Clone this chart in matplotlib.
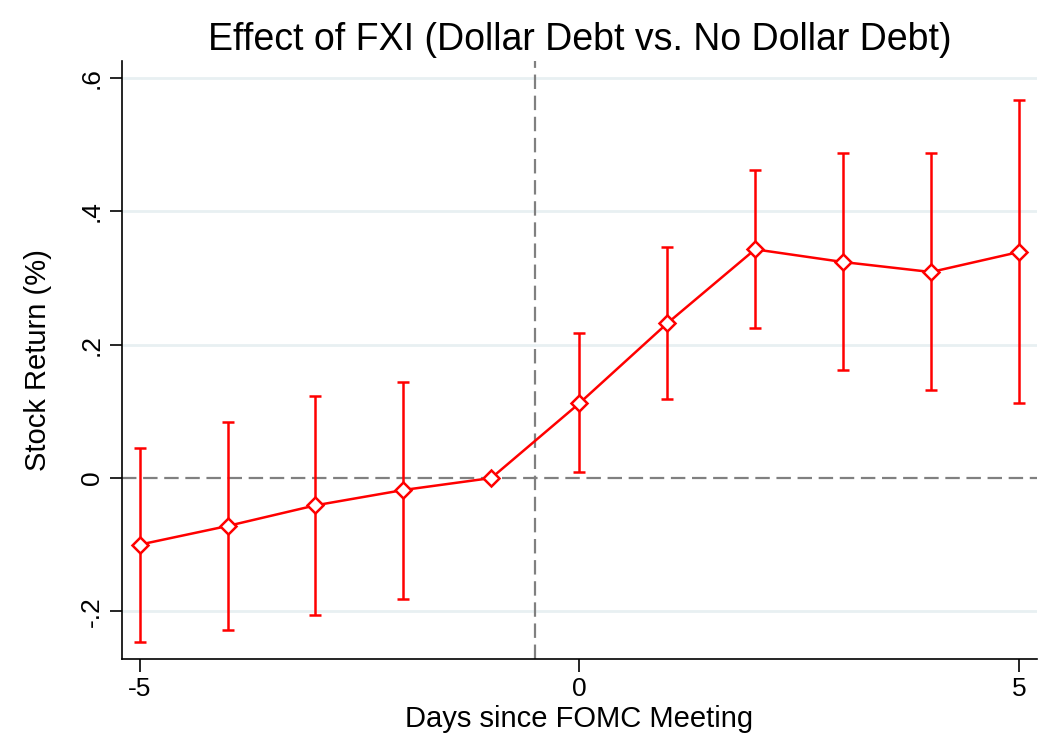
import matplotlib
matplotlib.use('Agg')
import matplotlib.pyplot as plt

# Event-study coefficients
days = [-5, -4, -3, -2, -1, 0, 1, 2, 3, 4, 5]
coef = [-0.100, -0.072, -0.041, -0.018, 0.000, 0.112, 0.232, 0.343, 0.324, 0.309, 0.339]
ci_hi = [0.045, 0.084, 0.123, 0.144, 0.000, 0.217, 0.347, 0.462, 0.487, 0.487, 0.567]
ci_lo = [-0.246, -0.228, -0.205, -0.181, 0.000, 0.009, 0.118, 0.225, 0.162, 0.132, 0.112]

yticks = [-0.2, 0, 0.2, 0.4, 0.6]
ytick_labels = ['-.2', '0', '.2', '.4', '.6']
xticks = [-5, 0, 5]

plt.rcParams['font.family'] = ['Liberation Sans', 'DejaVu Sans']

fig = plt.figure(figsize=(10.59, 7.47), dpi=100)
ax = fig.add_axes([0.1152, 0.1178, 0.864, 0.8005])

red = '#ff0000'
for y in [-0.2, 0.2, 0.4, 0.6]:
    ax.axhline(y, color='#e8f0f2', linewidth=2, zorder=0)
ax.axhline(0, color='#808080', linestyle=(0, (6.5, 3)), linewidth=1.6, zorder=1)
ax.axvline(-0.5, color='#808080', linestyle=(0, (6.5, 3)), linewidth=1.6, zorder=1)

# error bars only where there is an interval
for d, lo, hi in zip(days, ci_lo, ci_hi):
    if hi != lo:
        ax.errorbar([d], [(hi + lo) / 2], yerr=[[(hi - lo) / 2], [(hi - lo) / 2]],
                    fmt='none', ecolor=red, elinewidth=1.8, capsize=4.5, capthick=1.8, zorder=2)
ax.plot(days, coef, color=red, linewidth=1.8, marker='D', markersize=8,
        markerfacecolor='white', markeredgecolor=red, markeredgewidth=1.8, zorder=3)

ax.set_xlim(-5.2, 5.205)
ax.set_ylim(-0.2715, 0.6255)
ax.set_xticks(xticks)
ax.set_xticklabels([str(x) for x in xticks], fontsize=19)
ax.set_yticks(yticks)
ax.set_yticklabels(ytick_labels, fontsize=19, rotation=90, va='center')
ax.tick_params(length=9, width=1.2, color='black', pad=4)

for s in ['top', 'right']:
    ax.spines[s].set_visible(False)
for s in ['left', 'bottom']:
    ax.spines[s].set_linewidth(1.2)

ax.set_xlabel('Days since FOMC Meeting', fontsize=21, labelpad=3)
ax.set_ylabel('Stock Return (%)', fontsize=21, labelpad=20)
ax.set_title('Effect of FXI (Dollar Debt vs. No Dollar Debt)', fontsize=27, pad=8)

fig.savefig('out.png', dpi=100)
